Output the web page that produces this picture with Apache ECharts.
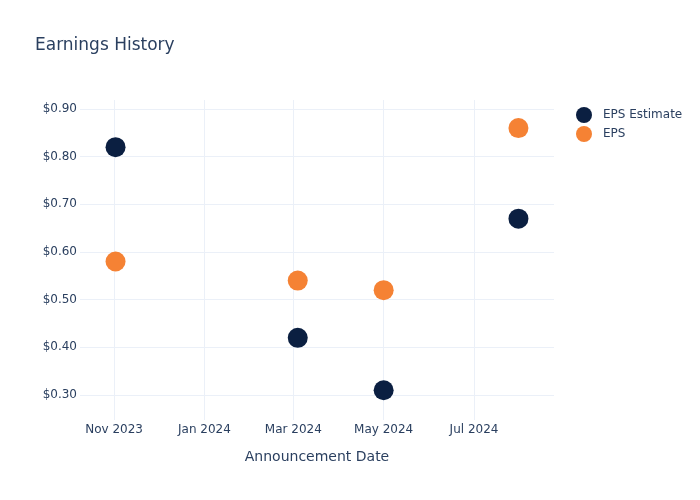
<!DOCTYPE html>
<html>
<head>
<meta charset="utf-8">
<script src="https://cdn.jsdelivr.net/npm/echarts@6/dist/echarts.min.js"></script>
<style>html,body{margin:0;padding:0;background:#fff}#c{width:700px;height:500px}</style>
</head>
<body>
<div id="c"></div>
<script>
const dates = ['2023-11-02', '2024-03-04', '2024-05-01', '2024-07-31'];
const epsEstimate = [0.82, 0.42, 0.31, 0.67];
const eps = [0.58, 0.54, 0.52, 0.86];
const yTicks = [0.3, 0.4, 0.5, 0.6, 0.7, 0.8, 0.9];
const xTickDates = ['2023-11-01', '2024-01-01', '2024-03-01', '2024-05-01', '2024-07-01'];
const monthNames = ['Jan','Feb','Mar','Apr','May','Jun','Jul','Aug','Sep','Oct','Nov','Dec'];

function ts(s) { const p = s.split('-').map(Number); return new Date(p[0], p[1] - 1, p[2]).getTime(); }

const font = 'DejaVu Sans, Verdana, sans-serif';
const textColor = '#2a3f5f';
const gridColor = '#ebf0f8';

const chart = echarts.init(document.getElementById('c'));
chart.setOption({
  animation: false,
  backgroundColor: '#fff',
  textStyle: { fontFamily: font, color: textColor },
  title: {
    text: 'Earnings History',
    left: 30, top: 32,
    textStyle: { fontFamily: font, fontSize: 17, fontWeight: 'normal', color: textColor }
  },
  legend: {
    orient: 'vertical',
    left: 571, top: 102,
    icon: 'circle',
    itemWidth: 16, itemHeight: 16, itemGap: 3,
    textStyle: { fontFamily: font, fontSize: 12, color: textColor, padding: [0, 0, 0, 6] },
    data: ['EPS Estimate', 'EPS']
  },
  grid: { left: 80, right: 146, top: 100, bottom: 80, containLabel: false },
  xAxis: {
    type: 'value',
    min: ts('2023-10-09'),
    max: ts('2024-08-24'),
    name: 'Announcement Date',
    nameLocation: 'middle',
    nameGap: 30,
    nameTextStyle: { fontFamily: font, fontSize: 14, color: textColor },
    axisLine: { show: false },
    axisTick: { show: false, customValues: xTickDates.map(ts) },
    axisLabel: {
      customValues: xTickDates.map(ts),
      margin: 4,
      fontFamily: font, fontSize: 12, color: textColor,
      formatter: function (v) { const d = new Date(v); return monthNames[d.getMonth()] + ' ' + d.getFullYear(); }
    },
    splitLine: { show: true, lineStyle: { color: gridColor, width: 1 } }
  },
  yAxis: {
    type: 'value',
    min: 0.2476,
    max: 0.9189,
    axisLine: { show: false },
    axisTick: { show: false, customValues: yTicks },
    axisLabel: {
      customValues: yTicks,
      margin: 3,
      fontFamily: font, fontSize: 12, color: textColor,
      formatter: function (v) { return '$' + v.toFixed(2); }
    },
    splitLine: { show: true, lineStyle: { color: gridColor, width: 1 } }
  },
  series: [
    {
      name: 'EPS Estimate', type: 'scatter', symbol: 'circle', symbolSize: 20,
      itemStyle: { color: '#0b1f41', opacity: 1 },
      data: dates.map((d, i) => [ts(d), epsEstimate[i]])
    },
    {
      name: 'EPS', type: 'scatter', symbol: 'circle', symbolSize: 20,
      itemStyle: { color: '#f58234', opacity: 1 },
      data: dates.map((d, i) => [ts(d), eps[i]])
    }
  ]
});
</script>
</body>
</html>
